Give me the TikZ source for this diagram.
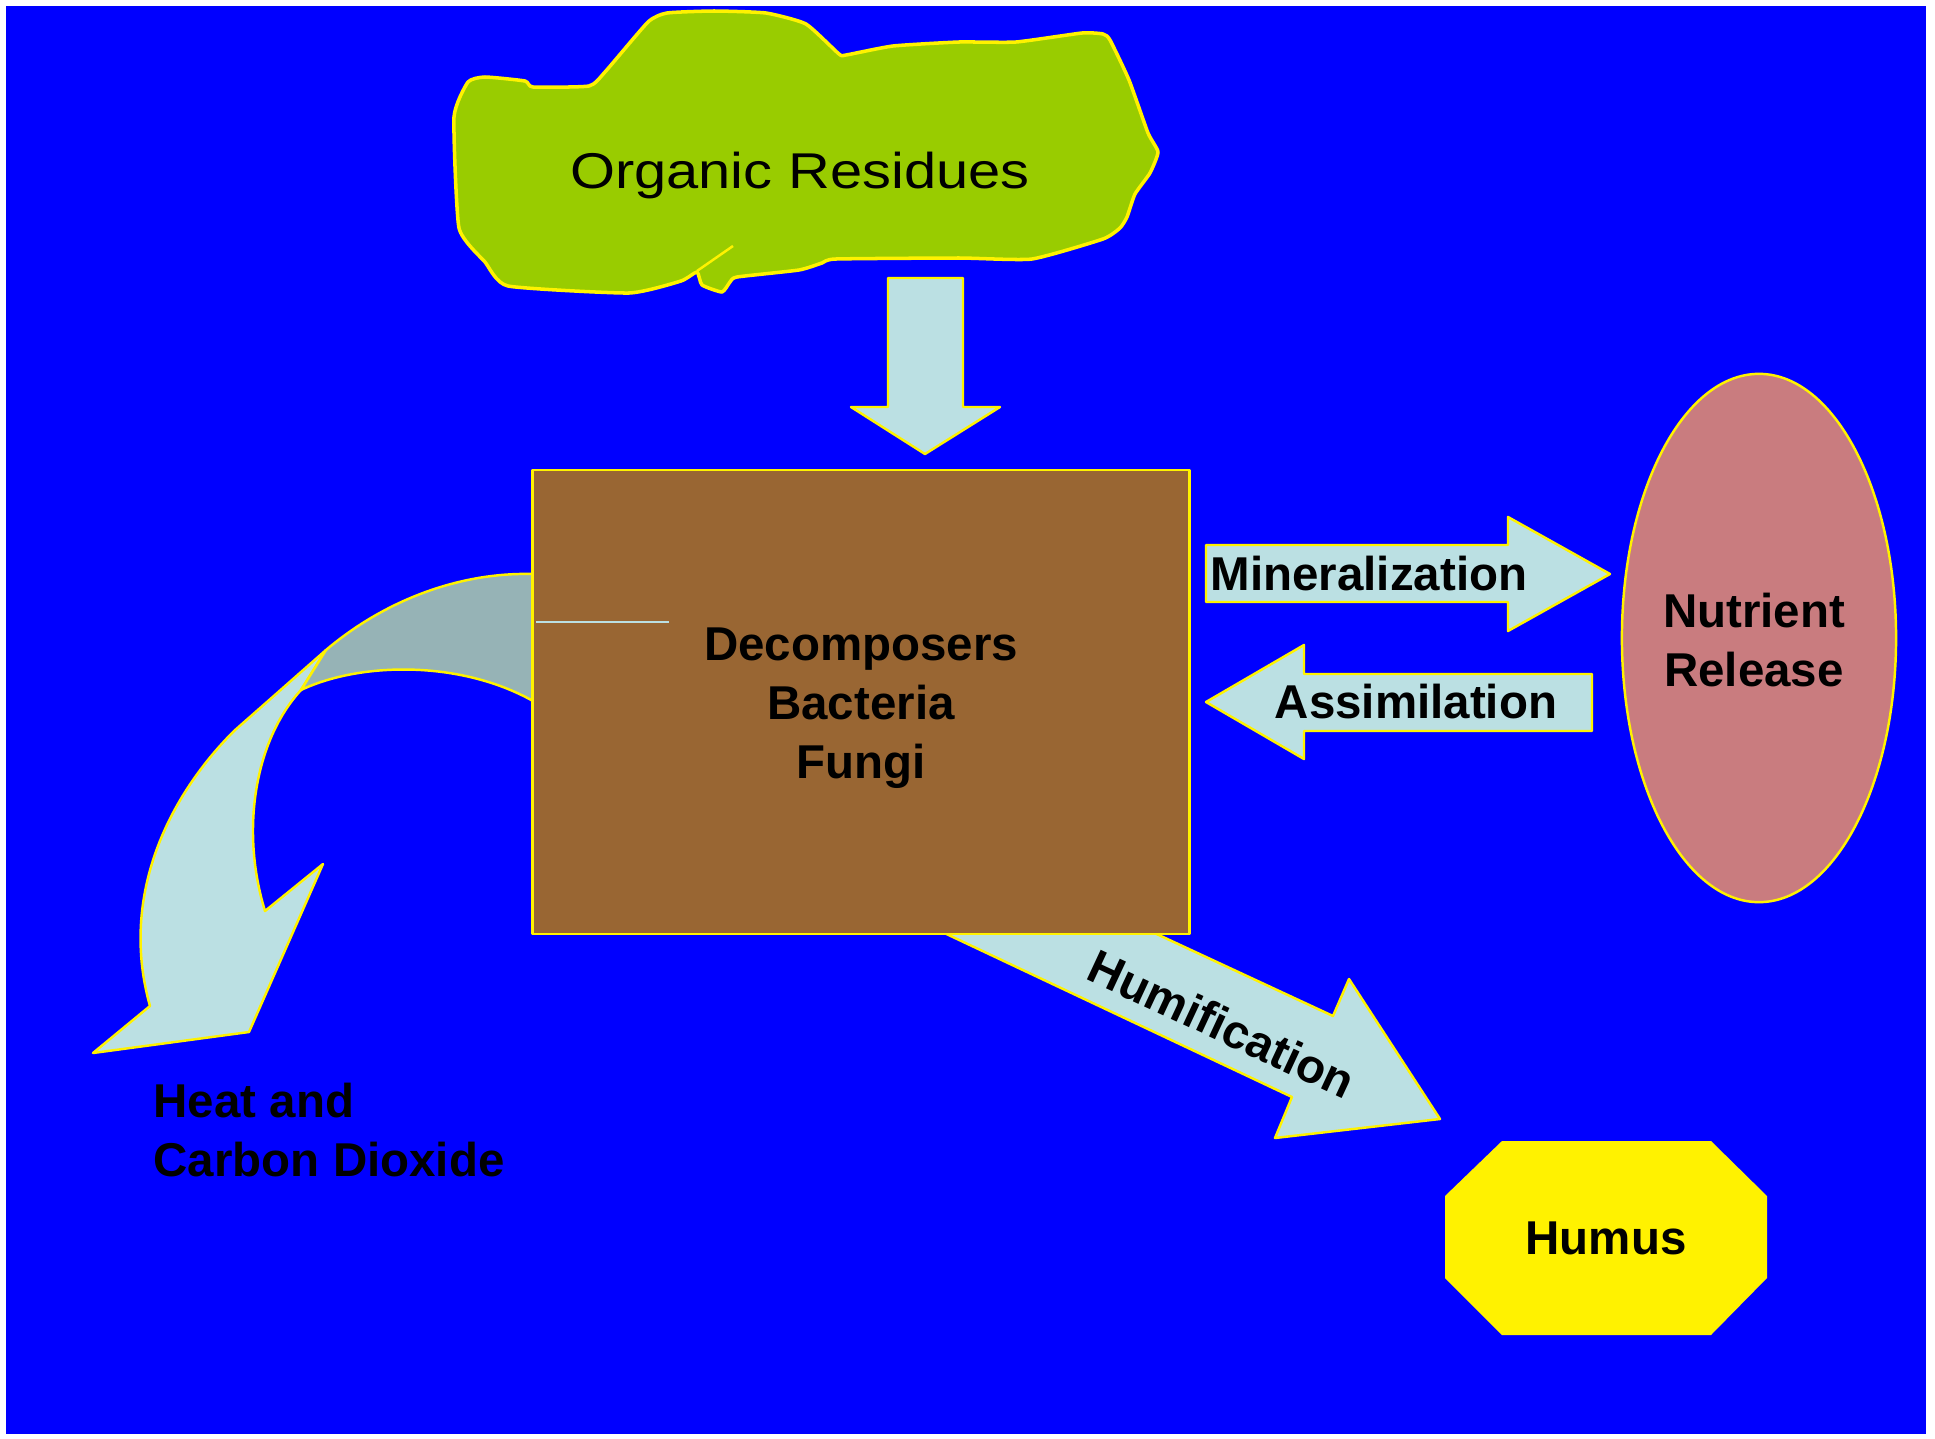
\documentclass[tikz,border=0pt]{standalone}
\usepackage{fontspec}
\setmainfont{Liberation Sans}
\newfontfamily\widefont[FakeStretch=1.15]{Liberation Sans}
\usetikzlibrary{shapes.geometric}

\definecolor{bgblue}{RGB}{0,0,255}
\definecolor{residuegreen}{RGB}{153,204,0}
\definecolor{decobrown}{RGB}{153,102,51}
\definecolor{arrowblue}{RGB}{187,224,227}
\definecolor{arrowgray}{RGB}{150,179,182}
\definecolor{nutrientpink}{RGB}{201,124,127}

\begin{document}
\begin{tikzpicture}[
    x=0.01cm, y=-0.01cm,
    line join=round,
    rim/.style={draw=yellow, line width=0.7pt},
    block/.style={rim, fill=arrowblue},
    boldtext/.style={font=\fontsize{13.5}{16.7}\selectfont\bfseries, align=center}
  ]
  \useasboundingbox (0,0) rectangle (1935,1439);
  \fill[bgblue] (6,6) rectangle (1926,1434);

  % organic residues
  \draw[rim, line width=1pt, fill=residuegreen] plot[smooth cycle, tension=0.3] coordinates {
    (468,82) (485,77) (525,81) (533,87) (589,86) (605,72) (648,22) (667,13)
    (714,11) (766,13) (806,24) (839,54) (846,55) (893,46) (959,42) (1016,42)
    (1082,33) (1103,34) (1110,40) (1129,80) (1148,133) (1158,152) (1150,173)
    (1135,194) (1127,217) (1120,228) (1103,239) (1032,259) (959,258) (836,259)
    (822,263) (799,270) (737,277) (730,282) (722,292) (702,285) (697,272)
    (681,281) (629,293) (508,286) (485,262) (459,228) (454,117)};
  \draw[rim] (697,271) -- (733,246);
  \node[font=\widefont\fontsize{14.3}{17}\selectfont, anchor=base] (residues) at (800,188)
    {Organic Residues};

  % down arrow
  \draw[block] (888,278) -- (963,278) -- (963,407) -- (1000,407) -- (925,454)
    -- (851,407) -- (888,407) -- cycle;

  % curved arrow to heat
  \draw[block] (326,650) -- (234,731) .. controls (165,800) and (120,900) .. (150,1006)
    -- (93,1053) -- (249,1032) -- (323,864) -- (265,911)
    .. controls (240,830) and (255,740) .. (301,690) -- cycle;
  \draw[rim, fill=arrowgray] (533,574) .. controls (460,572) and (385,600) .. (326,650)
    -- (301,690) .. controls (360,662) and (460,660) .. (533,701) -- cycle;

  % humification arrow
  \draw[block] (1148,930) -- (1333,1016) -- (1349,979) -- (1440,1119) -- (1275,1138)
    -- (1292,1097) -- (938,930) -- cycle;

  \node[rim, fill=decobrown, minimum width=6.57cm, minimum height=4.64cm]
    (decomp) at (861,702) {};
  \node[boldtext] (decomptext) at (861,708) {Decomposers\\Bacteria\\Fungi};
  \draw[arrowblue, line width=0.5pt] (536,622) -- (669,622);

  % mineralization / assimilation
  \draw[block] (1206,545) -- (1508,545) -- (1508,517) -- (1610,574) -- (1508,631)
    -- (1508,602) -- (1206,602) -- cycle;
  \draw[block] (1592,674) -- (1304,674) -- (1304,645) -- (1206,702) -- (1304,759)
    -- (1304,731) -- (1592,731) -- cycle;
  \node[boldtext] (mineral) at (1369,574) {Mineralization};
  \node[boldtext] (assim) at (1416,702) {Assimilation};

  \node[rim, ellipse, fill=nutrientpink, minimum width=2.74cm, minimum height=5.28cm,
    inner sep=0pt] (nutrient) at (1759,638) {};
  \node[boldtext] (nutrienttext) at (1754,640) {Nutrient\\Release};

  % humus
  \fill[yellow] (1502,1141) -- (1711,1141) -- (1767,1196) -- (1767,1278) -- (1711,1335)
    -- (1502,1335) -- (1445,1278) -- (1445,1196) -- cycle;
  \node[boldtext] (humus) at (1606,1238) {Humus};

  \node[boldtext, rotate=-25] (humif) at (1222,1024) {Humification};
  \node[boldtext, align=left, anchor=west, inner sep=0pt] (heat) at (153,1130)
    {Heat and\\Carbon Dioxide};
\end{tikzpicture}
\end{document}
